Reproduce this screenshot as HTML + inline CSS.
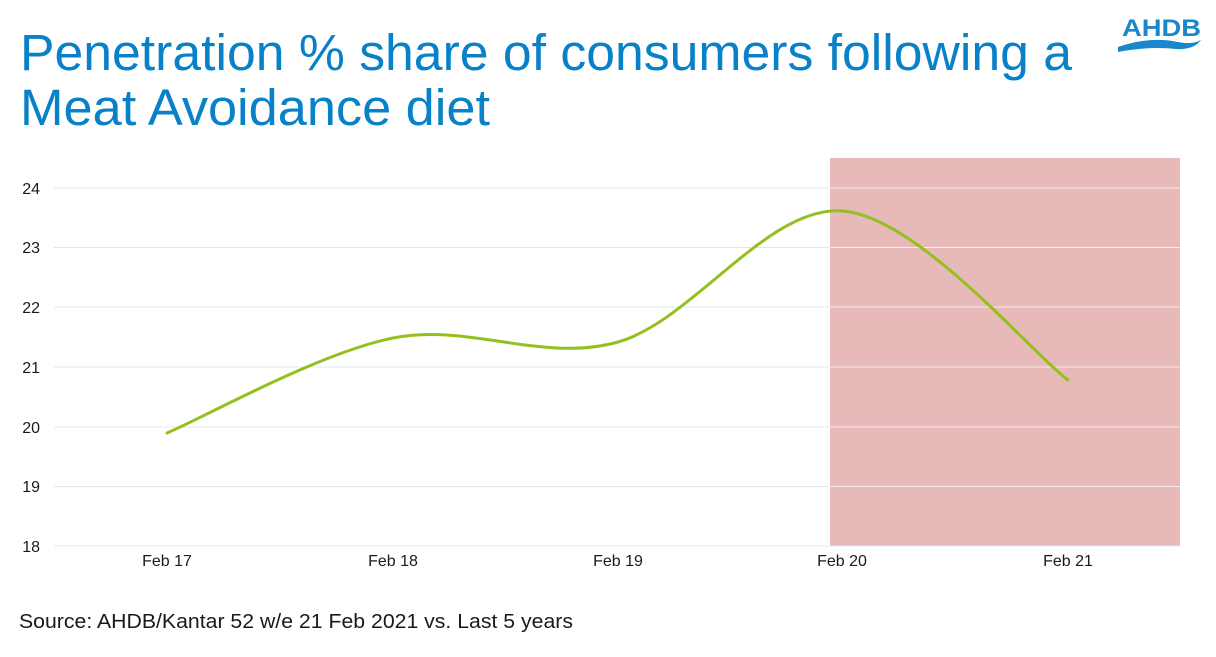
<!DOCTYPE html>
<html>
<head>
<meta charset="utf-8">
<style>
  html, body { margin: 0; padding: 0; background: #ffffff; }
  body { width: 1216px; height: 657px; overflow: hidden; }
  svg { display: block; }
</style>
</head>
<body>
<svg width="1216" height="657" viewBox="0 0 1216 657" xmlns="http://www.w3.org/2000/svg">
  <rect x="0" y="0" width="1216" height="657" fill="#ffffff"/>

  <!-- Title -->
  <text x="20" y="70" font-family="Liberation Sans, Arial, sans-serif" font-size="51" fill="#0881C8" textLength="1052" lengthAdjust="spacingAndGlyphs">Penetration % share of consumers following a</text>
  <text x="20" y="125" font-family="Liberation Sans, Arial, sans-serif" font-size="51" fill="#0881C8" textLength="470" lengthAdjust="spacingAndGlyphs">Meat Avoidance diet</text>

  <!-- Logo -->
  <text x="1122" y="36" font-family="Liberation Sans, Arial, sans-serif" font-size="24" font-weight="bold" fill="#1A86CC" textLength="79" lengthAdjust="spacingAndGlyphs">AHDB</text>
  <path d="M1118,47 Q1150,36 1178,42 Q1192,45 1201,40 Q1194,50 1176,49 Q1150,46 1118,52 Z" fill="#1A86CC"/>

  <!-- Pink highlighted region -->
  <rect x="830" y="158" width="350" height="388" fill="#E8B9B9"/>

  <!-- Gridlines -->
  <g stroke-width="1">
    <line x1="54" y1="188" x2="830" y2="188" stroke="#DCE8EF"/>
    <line x1="54" y1="247.5" x2="830" y2="247.5" stroke="#DCE8EF"/>
    <line x1="54" y1="307" x2="830" y2="307" stroke="#DCE8EF"/>
    <line x1="54" y1="367" x2="830" y2="367" stroke="#DCE8EF"/>
    <line x1="54" y1="427" x2="830" y2="427" stroke="#DCE8EF"/>
    <line x1="54" y1="486.5" x2="830" y2="486.5" stroke="#DCE8EF"/>
    <line x1="54" y1="546" x2="1180" y2="546" stroke="#DCE8EF"/>
    <line x1="830" y1="188" x2="1180" y2="188" stroke="#F6EDEF"/>
    <line x1="830" y1="247.5" x2="1180" y2="247.5" stroke="#F6EDEF"/>
    <line x1="830" y1="307" x2="1180" y2="307" stroke="#F6EDEF"/>
    <line x1="830" y1="367" x2="1180" y2="367" stroke="#F6EDEF"/>
    <line x1="830" y1="427" x2="1180" y2="427" stroke="#F6EDEF"/>
    <line x1="830" y1="486.5" x2="1180" y2="486.5" stroke="#F6EDEF"/>
  </g>

  <!-- Y labels -->
  <g font-family="Liberation Sans, Arial, sans-serif" font-size="16" fill="#1a1a1a" text-anchor="end">
    <text x="40" y="194">24</text>
    <text x="40" y="253">23</text>
    <text x="40" y="313">22</text>
    <text x="40" y="373">21</text>
    <text x="40" y="433">20</text>
    <text x="40" y="492">19</text>
    <text x="40" y="552">18</text>
  </g>

  <!-- X labels -->
  <g font-family="Liberation Sans, Arial, sans-serif" font-size="16" fill="#1a1a1a" text-anchor="middle">
    <text x="167" y="566">Feb 17</text>
    <text x="393" y="566">Feb 18</text>
    <text x="618" y="566">Feb 19</text>
    <text x="842" y="566">Feb 20</text>
    <text x="1068" y="566">Feb 21</text>
  </g>

  <!-- Series -->
  <path d="M167,433 C204.7,417.2 317.8,353.2 393,338 C468.2,322.8 543,363.2 618,342 C693,320.8 768,204.7 843,211 C918,217.3 1030.5,351.8 1068,380"
        fill="none" stroke="#93C01F" stroke-width="3" stroke-linecap="round" stroke-linejoin="round"/>

  <!-- Source -->
  <text x="19" y="628" font-family="Liberation Sans, Arial, sans-serif" font-size="20" fill="#1a1a1a" textLength="554" lengthAdjust="spacingAndGlyphs">Source: AHDB/Kantar 52 w/e 21 Feb 2021 vs. Last 5 years</text>
</svg>
</body>
</html>
